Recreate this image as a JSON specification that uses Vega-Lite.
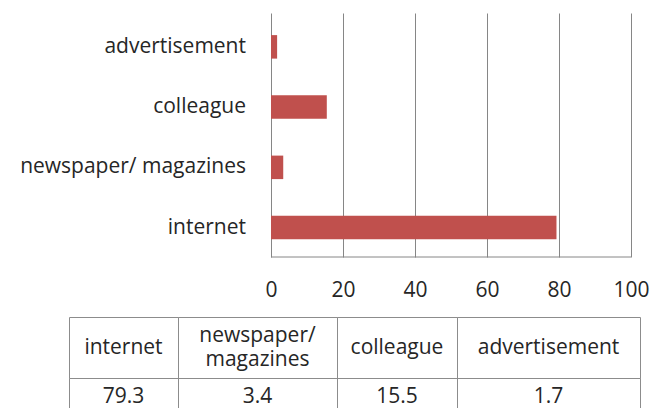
{
  "$schema": "https://vega.github.io/schema/vega-lite/v6.json",
  "padding": {"left": 20, "top": 13, "right": 0, "bottom": 0},
  "background": "white",
  "data": {"values": [
    {"source": "internet", "value": 79.3},
    {"source": "newspaper/ magazines", "value": 3.4},
    {"source": "colleague", "value": 15.5},
    {"source": "advertisement", "value": 1.7}
  ]},
  "config": {
    "view": {"stroke": null},
    "font": "Open Sans",
    "text": {"font": "Open Sans", "fontSize": 21, "color": "#262626"}
  },
  "spacing": 16,
  "vconcat": [
    {
      "width": 562,
      "height": 244,
      "encoding": {
        "y": {
          "field": "source",
          "type": "nominal",
          "sort": ["advertisement", "colleague", "newspaper/ magazines", "internet"],
          "scale": {"paddingInner": 0.61, "paddingOuter": 0.33, "align": 0.556},
          "axis": null
        }
      },
      "layer": [
        {
          "mark": {"type": "bar", "color": "#C0504D"},
          "encoding": {
            "x": {
              "field": "value",
              "type": "quantitative",
              "scale": {"domain": [-56.11, 100], "nice": false},
              "axis": {"values": [0, 20, 40, 60, 80, 100], "grid": true, "gridColor": "#868686", "gridOpacity": 1, "domain": false, "ticks": false, "labelFont": "Open Sans", "labelFontSize": 21, "labelColor": "#262626", "labelPadding": 22, "labelFlush": false, "labelOverlap": false, "title": null}
            }
          }
        },
        {
          "mark": {"type": "text", "align": "right", "baseline": "middle", "dx": -25},
          "encoding": {
            "x": {"datum": 0, "scale": {"domain": [-56.11, 100], "nice": false},
              "axis": {"values": [0, 20, 40, 60, 80, 100], "grid": true, "gridColor": "#868686", "gridOpacity": 1, "domain": false, "ticks": false, "labelFont": "Open Sans", "labelFontSize": 21, "labelColor": "#262626", "labelPadding": 22, "labelFlush": false, "labelOverlap": false, "title": null}},
            "text": {"field": "source"}
          }
        },
        {
          "data": {"values": [{}]},
          "mark": {"type": "rule", "color": "#868686"},
          "encoding": {
            "x": {"datum": 0, "scale": {"domain": [-56.11, 100], "nice": false},
              "axis": {"values": [0, 20, 40, 60, 80, 100], "grid": true, "gridColor": "#868686", "gridOpacity": 1, "domain": false, "ticks": false, "labelFont": "Open Sans", "labelFontSize": 21, "labelColor": "#262626", "labelPadding": 22, "labelFlush": false, "labelOverlap": false, "title": null}},
            "x2": {"datum": 100},
            "y": {"value": "height"}
          }
        }
      ]
    },
    {
      "columns": 4,
      "spacing": 0,
      "bounds": "flush",
      "align": "each",
      "concat": [
        {"width": 109, "height": 61, "view": {"stroke": "#8c8c8c"}, "transform": [{"filter": "datum.source === 'internet'"}], "mark": {"type": "text"}, "encoding": {"text": {"field": "source"}}},
        {"width": 159, "height": 61, "view": {"stroke": "#8c8c8c"}, "transform": [{"filter": "datum.source === 'newspaper/ magazines'"}], "mark": {"type": "text", "lineBreak": " ", "lineHeight": 24, "dy": -12}, "encoding": {"text": {"field": "source"}}},
        {"width": 120, "height": 61, "view": {"stroke": "#8c8c8c"}, "transform": [{"filter": "datum.source === 'colleague'"}], "mark": {"type": "text"}, "encoding": {"text": {"field": "source"}}},
        {"width": 183, "height": 61, "view": {"stroke": "#8c8c8c"}, "transform": [{"filter": "datum.source === 'advertisement'"}], "mark": {"type": "text"}, "encoding": {"text": {"field": "source"}}},
        {"width": 109, "height": 38, "view": {"stroke": "#8c8c8c"}, "transform": [{"filter": "datum.source === 'internet'"}], "mark": {"type": "text"}, "encoding": {"text": {"field": "value", "type": "quantitative", "format": ".1f"}}},
        {"width": 159, "height": 38, "view": {"stroke": "#8c8c8c"}, "transform": [{"filter": "datum.source === 'newspaper/ magazines'"}], "mark": {"type": "text"}, "encoding": {"text": {"field": "value", "type": "quantitative", "format": ".1f"}}},
        {"width": 120, "height": 38, "view": {"stroke": "#8c8c8c"}, "transform": [{"filter": "datum.source === 'colleague'"}], "mark": {"type": "text"}, "encoding": {"text": {"field": "value", "type": "quantitative", "format": ".1f"}}},
        {"width": 183, "height": 38, "view": {"stroke": "#8c8c8c"}, "transform": [{"filter": "datum.source === 'advertisement'"}], "mark": {"type": "text"}, "encoding": {"text": {"field": "value", "type": "quantitative", "format": ".1f"}}}
      ]
    }
  ]
}
